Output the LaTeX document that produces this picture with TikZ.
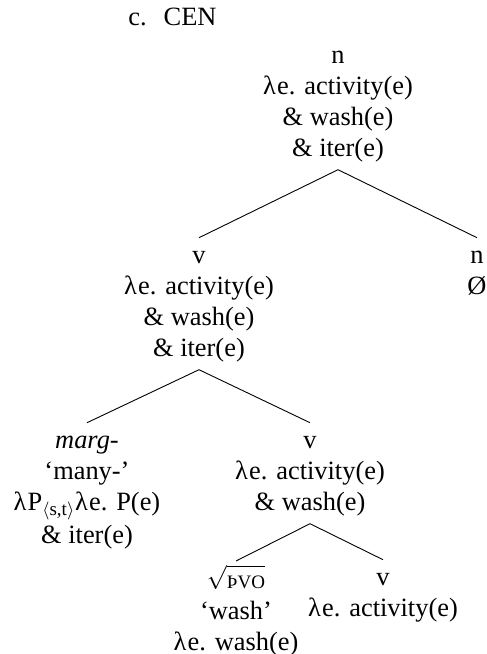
\documentclass[tikz,border=0pt]{standalone}
\usepackage{fontspec}
\setmainfont{Liberation Serif}
\newcommand{\lam}{λ\kern0.6pt}
\newcommand{\rootof}[1]{$\sqrt{\vrule height 9.6pt depth 0pt width 0pt\mbox{\fontsize{9.5}{9.5}\selectfont #1}}$}
\tikzset{
  treefont/.style={font=\fontsize{13.2}{15.5}\selectfont},
  term/.style={treefont, align=center, anchor=north, inner xsep=0pt, inner ysep=1.8pt},
  branch/.style={draw=black, line width=0.45pt}
}
\begin{document}
\begin{tikzpicture}[x=0.5pt,y=-0.5pt]
  \useasboundingbox (0,0) rectangle (487,654);
  \node[treefont, anchor=base west, inner sep=0pt] (label) at (128,25) {c.\hspace{8.5pt}CEN};

  \node[term] (ntop) at (338,37.7) {\strut n\\ \lam e. activity(e)\\ \& wash(e)\\ \& iter(e)\strut};

  \node[term] (vmid) at (199,237.7) {\strut v\\ \lam e. activity(e)\\ \& wash(e)\\ \& iter(e)\strut};
  \node[term] (nnull) at (477,237.7) {\strut n\\ Ø\strut};
  \draw[branch] (ntop.south) -- (vmid.north);
  \draw[branch] (ntop.south) -- (nnull.north);

  \node[term] (marg) at (87,422.7) {\strut\textit{marg-}\\ ‘many-’\\ \lam P$_{\langle\mbox{\fontsize{9.5}{9.5}\selectfont s,t}\rangle}$\lam e. P(e)\\ \& iter(e)\strut};
  \node[term] (vright) at (310,422.7) {\strut v\\ \lam e. activity(e)\\ \& wash(e)\strut};
  \draw[branch] (vmid.south) -- (marg.north);
  \draw[branch] (vmid.south) -- (vright.north);

  \node[term] (wash) at (236,561) {\strut\rootof{ÞVO}\\ ‘wash’\\ \lam e. wash(e)\strut};
  \node[term] (vlow) at (383,559.7) {\strut v\\ \lam e. activity(e)\strut};
  \draw[branch] (vright.south) -- (wash.north);
  \draw[branch] (vright.south) -- (vlow.north);
\end{tikzpicture}
\end{document}
